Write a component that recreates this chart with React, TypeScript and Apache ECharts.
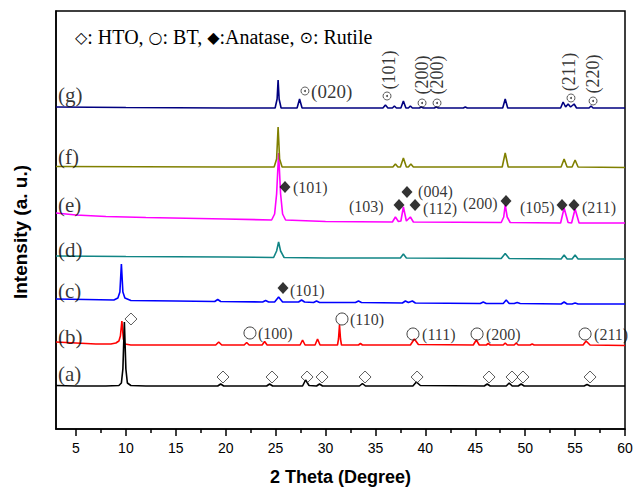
import React, { useEffect, useRef } from 'react';
import * as echarts from 'echarts';

const xTickValues = [5, 10, 15, 20, 25, 30, 35, 40, 45, 50, 55, 60];
const xMinorTickValues = [7.5, 12.5, 17.5, 22.5, 27.5, 32.5, 37.5, 42.5, 47.5, 52.5, 57.5];

const seriesA = [[3,43.5],[5,43],[8,43],[9.3,43.5],[9.55,46],[9.7,60],[9.85,107],[10.0,60],[10.15,46],[10.5,43.5],[12,43],[19.2,43],[19.5,45],[19.8,43],[24.1,43],[24.4,45],[24.7,43],[27.7,43],[28.0,49],[28.35,43.5],[29.1,43],[29.4,45],[29.7,43],[33.4,43],[33.7,45.5],[34.0,43],[38.75,43],[39.1,47],[39.5,43.5],[45.9,43],[46.2,45],[46.5,43],[48.1,43],[48.4,46],[48.7,43],[49.3,43],[49.6,45],[49.9,43],[55.9,43],[56.2,44.5],[56.5,43],[60,43]];

const seriesB = [[3,87],[5,86],[7,85],[8.5,85],[9.0,86],[9.3,88],[9.45,93],[9.6,108],[9.75,90],[9.9,85],[10.5,84],[19.0,84],[19.3,87],[19.6,84],[21.85,84],[22.1,86.5],[22.35,84],[23.65,84],[23.9,87.5],[24.15,84],[27.45,84],[27.7,89],[27.95,84],[28.95,84],[29.2,90],[29.45,84],[31.2,84],[31.3,90],[31.4,104],[31.5,90],[31.6,84],[33.3,84],[33.5,85.5],[33.7,84],[38.5,84],[38.9,90],[39.3,84.5],[44.8,84],[45.1,89],[45.4,84],[46.1,84],[46.3,85.5],[46.5,84],[47.8,84],[48.0,86],[48.2,84],[48.9,84],[49.1,86],[49.3,84],[50.5,84],[50.7,85],[50.9,84],[55.8,84],[56.1,88],[56.5,84],[60,83.5]];

const seriesC = [[3,130],[6,129.5],[8.8,129],[9.2,131],[9.4,137],[9.55,165],[9.7,137],[9.9,131],[10.5,128.5],[15,128],[18.9,127.5],[19.2,129.5],[19.5,127.5],[23.7,127],[24.0,128.5],[24.3,127],[24.9,127],[25.3,132],[25.7,127],[27.3,127],[27.6,129],[27.9,127],[28.8,126.5],[29.1,128],[29.4,126.5],[33.0,126.5],[33.3,128],[33.6,126.5],[37.7,126],[38.0,128],[38.3,126.5],[38.7,128],[39.0,126],[45.5,125.5],[45.8,127],[46.1,125.5],[47.8,125.5],[48.1,129],[48.4,125.5],[48.9,125.5],[49.2,126.5],[49.5,125.5],[53.6,125],[53.9,127],[54.2,125],[54.7,125],[55.0,126],[55.3,125],[60,125]];

const seriesD = [[3,173],[10,172.5],[20,172],[24.8,171.5],[25.1,178],[25.3,187],[25.5,178],[25.85,171.5],[30,171],[37.5,171],[37.8,175],[38.1,171],[47.6,170.5],[48.0,175.5],[48.4,170.5],[53.6,170],[53.9,174],[54.2,170],[54.7,170],[55.0,174],[55.3,170],[60,170]];

const seriesE = [[3,216],[5,214],[8,212.5],[12,211.5],[20,210],[24.6,209],[24.9,215],[25.1,235],[25.3,276],[25.5,235],[25.7,215],[26.0,209],[30,207.5],[36.7,207],[37.0,212],[37.3,207.5],[37.55,208],[37.8,222],[38.1,208],[38.5,212],[38.8,207],[47.6,206.5],[47.85,212],[48.0,224],[48.2,212],[48.5,206.5],[53.55,206],[53.9,221],[54.3,206.5],[54.65,206],[55.0,220],[55.4,206],[60,206]];

const seriesF = [[3,262.5],[20,262],[24.85,262],[25.1,270],[25.25,302],[25.4,270],[25.65,262],[36.75,262],[37.0,265],[37.25,262],[37.5,262],[37.8,271],[38.1,262],[38.3,262],[38.55,265],[38.8,262],[47.7,262],[48.0,276],[48.3,262],[53.6,262],[53.9,270],[54.2,262],[54.7,262],[55.0,269],[55.3,262],[60,261.5]];

const seriesG = [[3,322],[10,321.5],[20,321],[24.95,321],[25.15,330],[25.25,349],[25.35,330],[25.55,321],[27.15,321],[27.4,330],[27.65,321],[35.75,321],[36.0,324],[36.25,321],[36.7,321],[36.9,323],[37.1,321],[37.55,321],[37.8,328],[38.05,321],[38.3,321],[38.5,323],[38.7,321],[39.4,321],[39.6,322],[39.8,321],[40.9,321],[41.1,322],[41.3,321],[43.8,321],[44.0,322],[44.2,321],[47.75,321],[48.0,330],[48.25,321],[53.55,321],[53.8,327],[54.05,322],[54.3,325],[54.55,322],[54.9,325],[55.15,321],[56.4,321],[56.6,323],[56.8,321],[60,321]];

const htoMarks = [[19.73,52],[24.64,52],[28.15,52],[29.65,52],[33.96,52],[39.17,52],[46.38,52],[48.68,52],[49.78,52],[56.5,52],[10.51,110]];
const btMarks = [[22.43,96],[31.65,110],[38.76,95],[45.18,95],[56.0,95]];
const anataseMarks = [[25.94,242],[38.16,237],[37.36,224],[38.97,224],[48.08,228],[53.69,224],[54.89,224],[25.74,141]];
const rutileMarks = [[27.94,338],[36.16,333],[39.67,326],[41.17,326],[54.59,331],[56.8,328]];

const peakLabels: [number, number, string][] = [
  [26.74,242,'(101)'],[39.27,238,'(004)'],[32.35,223,'(103)'],[39.77,221,'(112)'],[43.77,226,'(200)'],[49.48,222,'(105)'],[55.69,222,'(211)'],
  [26.44,139,'(101)'],
  [23.24,96,'(100)'],[32.45,110,'(110)'],[39.67,95,'(111)'],[46.08,95,'(200)'],[56.9,95,'(211)'],
];
const rutileFlatLabels: [number, number, string][] = [[28.55,338,'(020)']];
const rutileRotLabels: [number, number, string][] = [[36.36,359,'(101)'],[39.67,354,'(200)'],[41.17,354,'(200)'],[54.39,357,'(211)'],[56.8,355,'(220)']];
const sampleLabels: [number, number, string][] = [[3.2,334,'(g)'],[3.2,272,'(f)'],[3.2,224,'(e)'],[3.2,179.5,'(d)'],[3.2,138,'(c)'],[3.2,92.5,'(b)'],[3.2,55.5,'(a)']];

const SERIF = '"Liberation Serif", "Times New Roman", serif';
const SANS = '"Liberation Sans", Arial, sans-serif';

function lineSeries(data: number[][], color: string) {
  return {
    type: 'line', data, showSymbol: false, symbol: 'none', silent: true, clip: false,
    lineStyle: { color, width: 1.6 }, z: 3,
  };
}

function textSeries(points: [number, number, string][], fontSize: number, align: string, rotate = 0) {
  return {
    type: 'scatter', silent: true, symbolSize: 1, z: 10,
    itemStyle: { color: 'transparent' },
    data: points.map((p) => ({ value: [p[0], p[1]], name: p[2] })),
    label: {
      show: true, formatter: '{b}', position: 'inside', align, verticalAlign: 'middle', rotate,
      fontSize, lineHeight: Math.round(fontSize * 0.85), fontFamily: SERIF, color: '#000',
    },
  };
}

export default function App() {
  const ref = useRef<HTMLDivElement>(null);
  useEffect(() => {
    document.body.style.margin = '0';
    const chart = echarts.init(ref.current!, null, { renderer: 'svg' });
    const option: any = {
      animation: false,
      backgroundColor: '#fff',
      title: {
        text: '{s|◇}: HTO, {s|○}: BT, {s|◆}:Anatase, {s|⊙}: Rutile',
        left: 70, top: 22,
        textStyle: {
          fontFamily: SERIF, fontSize: 20, fontWeight: 'normal', color: '#000',
          rich: { s: { fontSize: 16, fontFamily: '"DejaVu Sans", sans-serif', color: '#000' } },
        },
      },
      grid: {
        left: 56, right: 8, top: 11, bottom: 59, show: true, borderColor: '#000', borderWidth: 1.5,
        containLabel: false, outerBoundsMode: 'none',
      },
      xAxis: [
        {
          type: 'value', min: 3, max: 60,
          name: '2 Theta (Degree)', nameLocation: 'middle', nameGap: 39,
          nameTextStyle: { fontFamily: SANS, fontSize: 18, fontWeight: 'bold', color: '#000' },
          axisLine: { show: true, lineStyle: { color: '#000', width: 1.5 } },
          axisTick: { show: true, customValues: xTickValues, length: 7, lineStyle: { color: '#000', width: 1.5 } },
          axisLabel: { customValues: xTickValues, margin: 12, fontFamily: SANS, fontSize: 14, color: '#000' },
          splitLine: { show: false },
        },
        {
          type: 'value', min: 3, max: 60, position: 'bottom',
          axisLine: { show: false },
          axisTick: { show: true, customValues: xMinorTickValues, length: 4, lineStyle: { color: '#000', width: 1.5 } },
          axisLabel: { show: false },
          splitLine: { show: false },
        },
      ],
      yAxis: {
        type: 'value', min: 0, max: 418,
        axisLine: { show: true, lineStyle: { color: '#000', width: 1.5 } },
        axisTick: { show: false }, axisLabel: { show: false }, splitLine: { show: false },
      },
      graphic: [
        {
          type: 'text', x: 20, y: 232, rotation: Math.PI / 2,
          style: {
            text: 'Intensity (a. u.)', textAlign: 'center', textVerticalAlign: 'middle',
            font: `bold 19px ${SANS}`, fill: '#000',
          },
        },
      ],
      series: [
        lineSeries(seriesE, '#ff00ff'),
        lineSeries(seriesF, '#808000'),
        lineSeries(seriesG, '#000080'),
        lineSeries(seriesD, '#118585'),
        lineSeries(seriesC, '#0000ff'),
        lineSeries(seriesB, '#ff0000'),
        lineSeries(seriesA, '#000000'),
        {
          type: 'scatter', silent: true, data: htoMarks, symbol: 'diamond', symbolSize: 12, z: 8,
          itemStyle: { color: 'transparent', borderColor: '#333', borderWidth: 1 },
        },
        {
          type: 'scatter', silent: true, data: btMarks, symbol: 'circle', symbolSize: 12, z: 8,
          itemStyle: { color: 'transparent', borderColor: '#111', borderWidth: 1 },
        },
        {
          type: 'scatter', silent: true, data: anataseMarks, symbol: 'diamond', symbolSize: [11, 12], z: 8,
          itemStyle: { color: '#000' },
        },
        {
          type: 'scatter', silent: true, data: rutileMarks, symbol: 'circle', symbolSize: 8, z: 8,
          itemStyle: { color: 'transparent', borderColor: '#222', borderWidth: 0.9 },
        },
        {
          type: 'scatter', silent: true, data: rutileMarks, symbol: 'circle', symbolSize: 2, z: 9,
          itemStyle: { color: '#222' },
        },
        textSeries(peakLabels, 16, 'left'),
        textSeries(rutileFlatLabels, 19, 'left'),
        textSeries(rutileRotLabels, 18, 'center', 90),
        textSeries(sampleLabels, 21, 'left'),
      ],
    };
    chart.setOption(option);
    return () => chart.dispose();
  }, []);
  return <div ref={ref} style={{ width: 633, height: 488, position: 'absolute', left: 0, top: 0 }} />;
}
